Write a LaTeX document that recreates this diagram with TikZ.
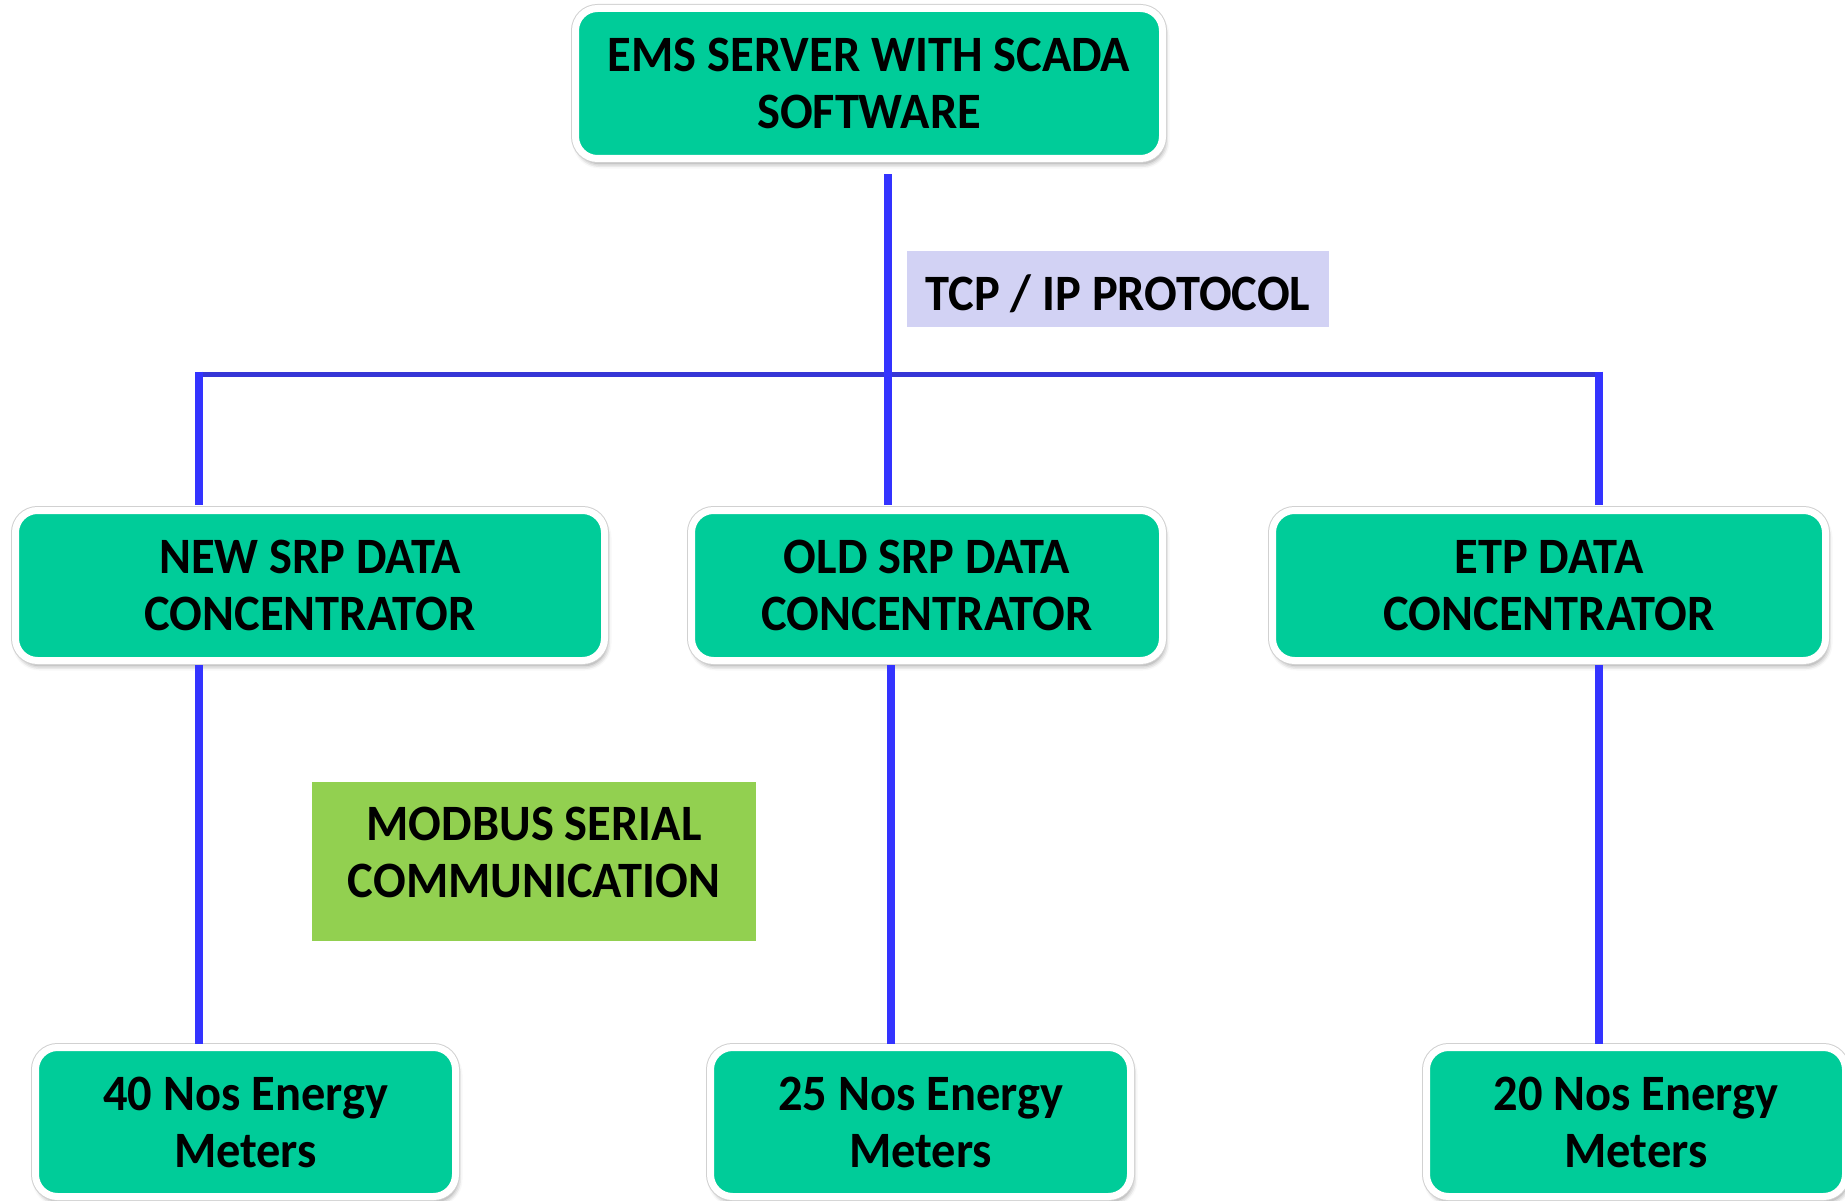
\documentclass[tikz,border=0pt]{standalone}
\usepackage{fontspec}
\setmainfont{Carlito}[FakeStretch=0.95]
\usetikzlibrary{shadows.blur}

\definecolor{boxgreen}{HTML}{00CC99}
\definecolor{linkblue}{HTML}{3333FF}
\definecolor{busblue}{HTML}{3636D6}
\definecolor{tcpfill}{HTML}{D2D2F4}
\definecolor{modfill}{HTML}{92D050}

\tikzset{
  unitbox/.style={draw=white, line width=7pt, fill=boxgreen, rounded corners=22pt,
    minimum height=150pt, align=center, inner sep=0pt,
    font=\fontsize{51}{57}\selectfont\bfseries,
    blur shadow={shadow xshift=2pt, shadow yshift=-5pt, shadow blur radius=5pt, shadow opacity=45},
    preaction={draw=black!18, line width=9pt}},
  tag/.style={draw=none, inner sep=0pt},
  tagtext/.style={inner sep=0pt, align=center, font=\fontsize{51}{57}\selectfont\bfseries},
  vline/.style={draw=linkblue, line width=8pt},
  hline/.style={draw=busblue, line width=5pt},
}

\begin{document}
\begin{tikzpicture}[x=1pt, y=-1pt]
  \useasboundingbox (0,0) rectangle (1845,1201);

  % protocol labels
  \node[tag, fill=tcpfill, minimum width=422pt, minimum height=76pt] (tcp) at (1118,289) {};
  \node[tagtext] (tcptext) at ([yshift=-5pt]tcp.center) {TCP / IP PROTOCOL};
  \node[tag, fill=modfill, minimum width=444pt, minimum height=159pt] (modbus) at (534,861.5) {};
  \node[tagtext] (modbustext) at ([yshift=9pt]modbus.center) {MODBUS SERIAL\\COMMUNICATION};

  % server
  \node[unitbox, minimum width=587pt] (ems) at (869,83.5) {EMS SERVER WITH SCADA\\SOFTWARE};

  % data concentrators
  \node[unitbox, minimum width=589pt] (newsrp) at (310,585.5) {NEW SRP DATA\\CONCENTRATOR};
  \node[unitbox, minimum width=471pt] (oldsrp) at (927,585.5) {OLD SRP DATA\\CONCENTRATOR};
  \node[unitbox, minimum width=553pt] (etp) at (1549,585.5) {ETP DATA\\CONCENTRATOR};

  % energy meters
  \node[unitbox, minimum width=420pt, minimum height=149pt] (m40) at (245.5,1122) {40 Nos Energy\\Meters};
  \node[unitbox, minimum width=420pt, minimum height=149pt] (m25) at (920.5,1122) {25 Nos Energy\\Meters};
  \node[unitbox, minimum width=419pt, minimum height=149pt] (m20) at (1636,1122) {20 Nos Energy\\Meters};

  % bus taps
  \coordinate (busL) at (199,374);
  \coordinate (busM) at (888,374);
  \coordinate (busR) at (1599,374);
  \coordinate (dropM) at (891,800);

  % TCP/IP network
  \draw[hline] (busL) -- (busR);
  \draw[vline, shorten <=12.5pt, shorten >=2pt] (ems.south -| busM) -- (oldsrp.north -| busM);
  \draw[vline, shorten >=2pt] ([yshift=2.5pt]busL) -- (newsrp.north -| busL);
  \draw[vline, shorten >=2pt] ([yshift=2.5pt]busR) -- (etp.north -| busR);

  % Modbus serial links
  \draw[vline, shorten <=1pt] (newsrp.south -| busL) -- (m40.north -| busL);
  \draw[vline, shorten <=1pt] (oldsrp.south -| dropM) -- (m25.north -| dropM);
  \draw[vline, shorten <=1pt] (etp.south -| busR) -- (m20.north -| busR);
\end{tikzpicture}
\end{document}
